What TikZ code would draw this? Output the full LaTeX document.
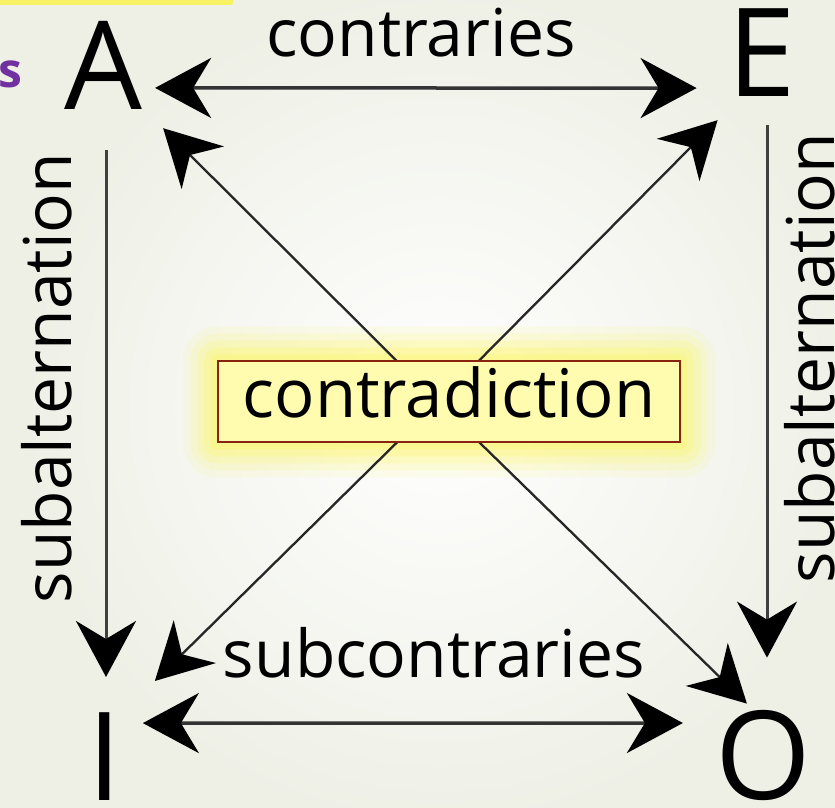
\documentclass[tikz,border=0pt]{standalone}
\usepackage{fontspec}
\setmainfont{Open Sans}
\usetikzlibrary{arrows.meta, backgrounds}

\definecolor{paper}{RGB}{238,240,230}
\definecolor{glowyellow}{RGB}{252,246,100}
\definecolor{boxfill}{RGB}{255,251,175}
\definecolor{boxline}{RGB}{135,35,15}
\definecolor{notepurple}{RGB}{112,48,160}
\definecolor{stripyellow}{RGB}{246,242,100}

\begin{document}
\begin{tikzpicture}[x=1pt, y=1pt,
        >={Stealth[length=56pt, width=60pt, inset=18pt, color=black]},
        corner/.style={font=\fontsize{123}{123}\selectfont, inner sep=0pt, anchor=base, text=black},
        word/.style={font=\fontsize{66}{66}\selectfont, inner sep=0pt, anchor=base, text=black},
        contrabox/.style={draw=boxline, line width=2pt, fill=boxfill,
                minimum width=462pt, minimum height=81pt, text height=51pt, text depth=19pt,
                inner sep=0pt, font=\fontsize{67}{67}\selectfont},
        pair/.style={<->, line width=3.5pt, draw=black!80},
        down/.style={->, line width=3pt, draw=black!75},
        diag/.style={->, line width=2.3pt, draw=black!85}]

    \useasboundingbox (0,0) rectangle (835,808);
    \clip (0,0) rectangle (835,808);

    \node[corner] (A) at (103,698) {A};
    \node[corner] (E) at (762,711) {E};
    \node[corner] (I) at (104.5,7) {I};
    \node[corner] (O) at (763,8) {O};

    \node[contrabox] (box) at (449,406) {contradiction};

    \node[word] (ctr) at (421,751) {contraries};
    \node[word] (subctr) at (434,130) {subcontraries};
    \node[word, rotate=90] (subL) at (71,430) {subalternation};
    \node[word, rotate=90] (subR) at (834,450) {subalternation};

    \node[anchor=base east, inner sep=0pt, text=notepurple,
          font=\fontsize{48}{48}\selectfont\bfseries] (note) at (23,720) {us};

    \coordinate (cross) at ([xshift=-11pt]box.center);

    \draw[pair] ([shift={(13,-22)}]A.east) -- ([shift={(-31,-35)}]E.west);
    \draw[pair] ([shift={(21,34)}]I.east) -- ([shift={(-32,33)}]O.west);

    \draw[down] ([shift={(3,-40)}]A.south) -- ([shift={(1.5,36)}]I.north);
    \draw[down] ([shift={(5,-28)}]E.south) -- ([shift={(4,53)}]O.north);

    \begin{scope}[on background layer]
        \fill[paper] (0,0) rectangle (835,808);
        \shade[inner color=white, outer color=paper] (440,400) circle (420);
        \fill[stripyellow, rounded corners=2pt] (-5,803) rectangle (233,812);
        \foreach \g/\o in {34/0.10, 27/0.14, 20/0.2, 13/0.26, 6/0.32} {
            \fill[glowyellow, opacity=\o, rounded corners=\g]
                ([shift={(-\g,-\g)}]box.south west) rectangle ([shift={(\g,\g)}]box.north east);
        }
        \draw[diag] (cross) -- ([shift={(21,-18)}]A.south east);
        \draw[diag] (cross) -- ([shift={(-10,-23)}]E.south west);
        \draw[diag] (cross) -- ([shift={(33,32)}]I.north east);
        \draw[diag] (cross) -- ([shift={(32,7)}]O.north west);
    \end{scope}
\end{tikzpicture}
\end{document}
